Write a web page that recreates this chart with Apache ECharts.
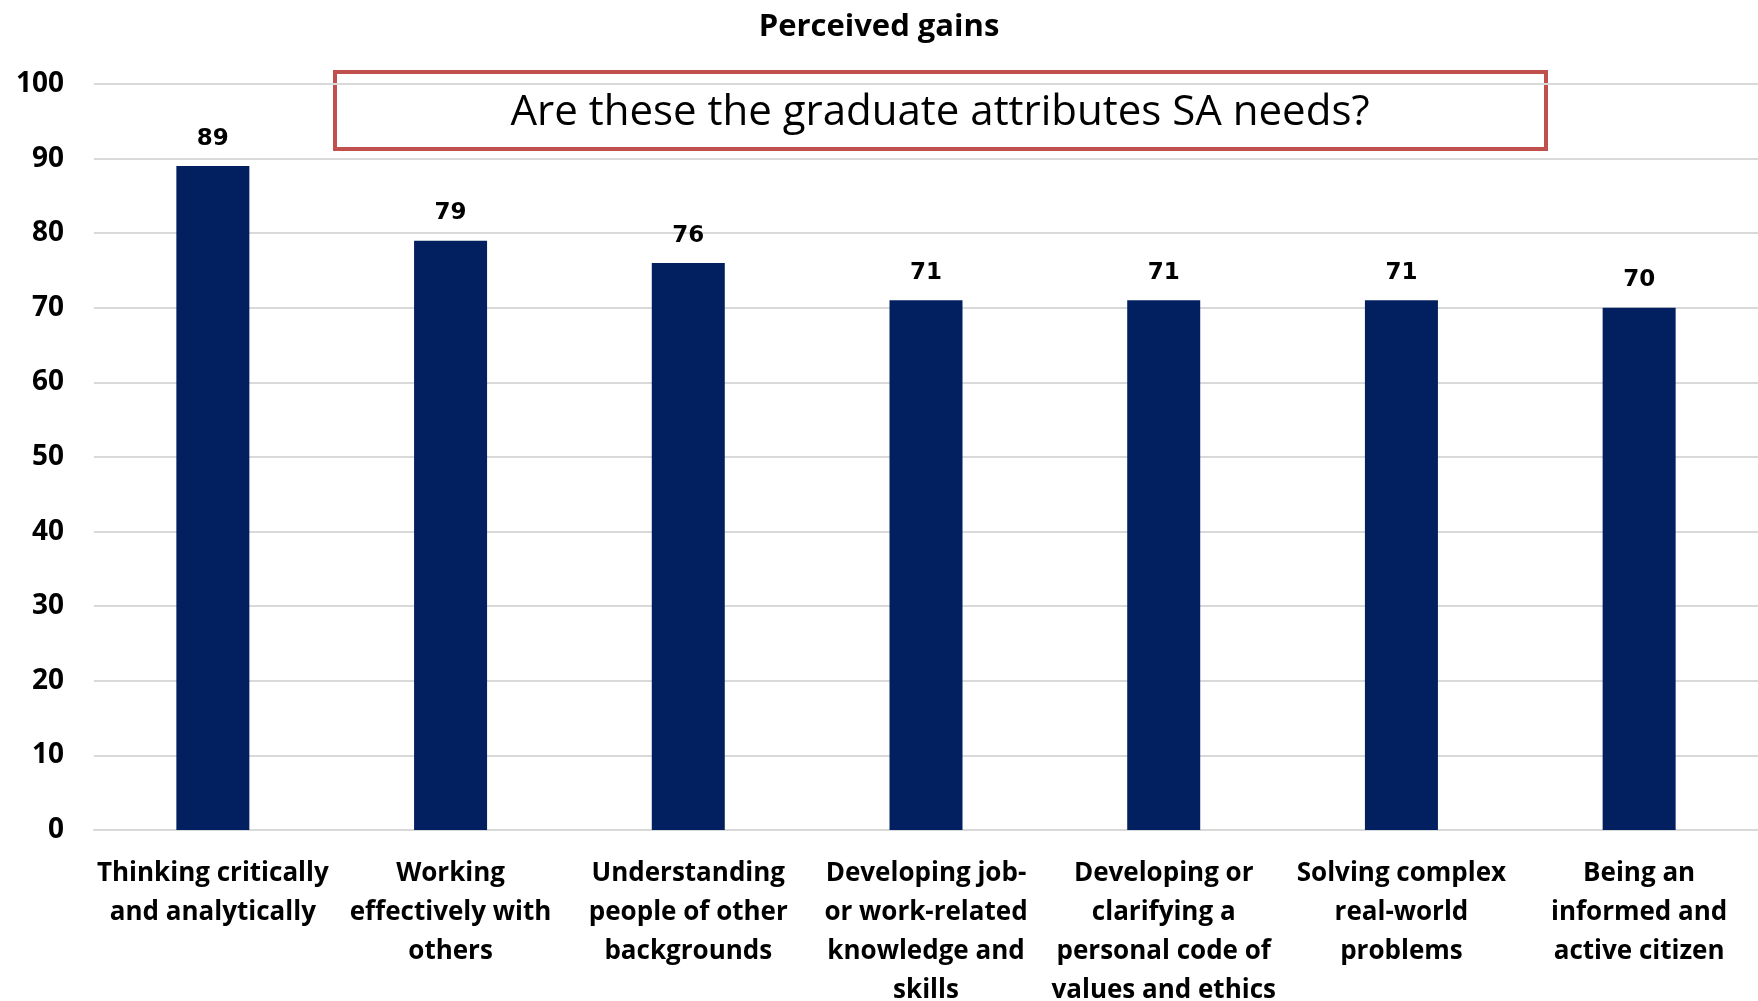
<!DOCTYPE html>
<html>
<head>
<meta charset="utf-8">
<script src="https://cdn.jsdelivr.net/npm/echarts@6/dist/echarts.min.js"></script>
<style>
  html, body { margin: 0; padding: 0; background: #fff; overflow: hidden; }
  #chart { width: 1758px; height: 1001px; }
</style>
</head>
<body>
<div id="chart"></div>
<script>
// categories (line breaks as in the picture)
const categories = [
  'Thinking critically\nand analytically',
  'Working\neffectively with\nothers',
  'Understanding\npeople of other\nbackgrounds',
  'Developing job-\nor work-related\nknowledge and\nskills',
  'Developing or\nclarifying a\npersonal code of\nvalues and ethics',
  'Solving complex\nreal-world\nproblems',
  'Being an\ninformed and\nactive citizen'
]
const gains = [89, 79, 76, 71, 71, 71, 70]
const yTicks = [0, 10, 20, 30, 40, 50, 60, 70, 80, 90, 100]

const chartTitle = 'Perceived gains'
const boxText = 'Are these the graduate attributes SA needs?'

const font = '"Open Sans", "Noto Sans", sans-serif'

let chart = echarts.init(document.getElementById('chart'))

chart.setOption({
  backgroundColor: '#fff',
  animation: false,
  title: {
    text: chartTitle,
    left: 'center',
    top: 7,
    textStyle: { fontFamily: font, fontWeight: 'bold', fontSize: 31, color: '#000' }
  },
  grid: { left: 94, right: 0, top: 84, bottom: 171, outerBoundsMode: 'none' },
  xAxis: {
    type: 'category',
    data: categories,
    axisLine: { lineStyle: { color: '#d9d9d9', width: 2 } },
    axisTick: { show: false },
    axisLabel: {
      interval: 0,
      margin: 24,
      fontFamily: font,
      fontWeight: 'bold',
      fontSize: 26,
      lineHeight: 39,
      color: '#000'
    }
  },
  yAxis: {
    type: 'value',
    min: yTicks[0],
    max: yTicks[yTicks.length - 1],
    interval: 10,
    axisLine: { show: false },
    axisTick: { show: false },
    splitLine: { lineStyle: { color: '#d9d9d9', width: 2 } },
    axisLabel: {
      margin: 30,
      fontFamily: font,
      fontWeight: 'bold',
      fontSize: 28,
      color: '#000'
    }
  },
  series: [{
    type: 'bar',
    data: gains,
    barWidth: 73,
    itemStyle: { color: '#022060' },
    label: {
      show: true,
      position: 'top',
      distance: 16,
      fontFamily: '"DejaVu Sans", sans-serif',
      fontWeight: 'bold',
      fontSize: 23,
      color: '#000'
    }
  }],
  graphic: [{
    type: 'group',
    left: 333,
    top: 70,
    children: [{
      type: 'rect',
      shape: { x: 0, y: 0, width: 1211, height: 77 },
      style: { fill: '#fff', stroke: '#c0504d', lineWidth: 4 }
    }, {
      type: 'text',
      x: 605,
      y: 41,
      style: {
        text: boxText,
        fontFamily: font,
        fontSize: 42,
        fill: '#000',
        align: 'center',
        verticalAlign: 'middle'
      }
    }]
  }]
})
</script>
</body>
</html>
